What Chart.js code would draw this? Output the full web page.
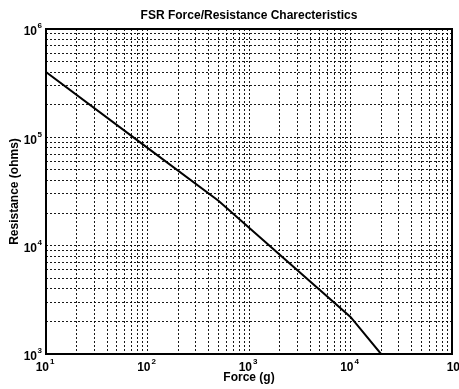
<!DOCTYPE html>
<html>
<head>
<meta charset="utf-8">
<script src="https://cdn.jsdelivr.net/npm/chart.js@4"></script>
<style>
  html, body { margin: 0; padding: 0; background: #fff; }
  canvas { display: block; }
</style>
</head>
<body>
<canvas id="fsr" width="459" height="389"></canvas>
<script>
// Force (g) and the matching sensor resistance (ohms)
const forceGrams = [10, 100, 500, 10000, 20000];
const resistanceOhms = [400000, 80000, 26000, 2200, 1000];

// Decade exponents labelled on each axis
const xTickExponents = [1, 2, 3, 4, 5];
const yTickExponents = [3, 4, 5, 6];

const titleText = 'FSR Force/Resistance Charecteristics';
const xAxisTitle = 'Force (g)';
const yAxisTitle = 'Resistance (ohms)';

const FONT = '"Liberation Sans", Arial, Helvetica, sans-serif';

// 1..9 x 10^k grid values across the decades of an axis
function decadeGrid(exps) {
  const vals = [];
  for (let e = exps[0]; e < exps[exps.length - 1]; e++) {
    for (let s = 1; s < 10; s++) vals.push(s * Math.pow(10, e));
  }
  vals.push(Math.pow(10, exps[exps.length - 1]));
  return vals.map(v => ({ value: v }));
}

// Frame, "10^n" tick labels and titles
const annotate = {
  id: 'annotate',
  afterDraw(chart) {
    const { ctx, chartArea: a, scales } = chart;
    ctx.save();
    ctx.strokeStyle = '#000';
    ctx.lineWidth = 2;
    ctx.strokeRect(a.left, a.top, a.right - a.left, a.bottom - a.top);

    ctx.fillStyle = '#000';
    const base = 'bold 12px ' + FONT;
    const sup = 'bold 8px ' + FONT;

    // x decade labels (the last one runs off the right edge)
    xTickExponents.forEach((e, i) => {
      const last = i === xTickExponents.length - 1;
      const px = scales.x.getPixelForValue(Math.pow(10, e)) + (last ? 6 : 1);
      ctx.font = base;
      ctx.textAlign = 'right';
      ctx.textBaseline = 'middle';
      ctx.fillText('10', px + 2, a.bottom + 14);
      ctx.font = sup;
      ctx.textAlign = 'left';
      ctx.fillText(String(e), px + 3, a.bottom + 8);
    });

    // y decade labels
    yTickExponents.forEach(e => {
      const py = scales.y.getPixelForValue(Math.pow(10, e));
      ctx.font = base;
      ctx.textAlign = 'right';
      ctx.textBaseline = 'middle';
      ctx.fillText('10', a.left - 9, py + 3);
      ctx.font = sup;
      ctx.textAlign = 'left';
      ctx.fillText(String(e), a.left - 8.5, py - 3);
    });

    const cx = (a.left + a.right) / 2;
    ctx.font = base;
    ctx.textAlign = 'center';
    ctx.textBaseline = 'middle';
    ctx.fillText(titleText, cx, 16);
    ctx.fillText(xAxisTitle, cx, 378);

    ctx.translate(15, (a.top + a.bottom) / 2);
    ctx.rotate(-Math.PI / 2);
    ctx.fillText(yAxisTitle, 0, 0);
    ctx.restore();
  }
};

const gridStyle = {
  grid: { color: 'rgba(0,0,0,0.9)', lineWidth: 1, drawTicks: false },
  border: { display: false, dash: [2, 2] },
  ticks: { display: false }
};

new Chart(document.getElementById('fsr'), {
  type: 'line',
  data: {
    datasets: [{
      data: forceGrams.map((f, i) => ({ x: f, y: resistanceOhms[i] })),
      borderColor: '#000',
      borderWidth: 2,
      pointRadius: 0,
      tension: 0,
      fill: false
    }]
  },
  options: {
    responsive: false,
    animation: false,
    layout: { padding: { left: 46, right: 7, top: 29, bottom: 35 } },
    plugins: { legend: { display: false }, tooltip: { enabled: false } },
    scales: {
      x: Object.assign({
        type: 'logarithmic',
        min: Math.pow(10, xTickExponents[0]),
        max: Math.pow(10, xTickExponents[xTickExponents.length - 1]),
        afterBuildTicks: s => { s.ticks = decadeGrid(xTickExponents); }
      }, gridStyle),
      y: Object.assign({
        type: 'logarithmic',
        min: Math.pow(10, yTickExponents[0]),
        max: Math.pow(10, yTickExponents[yTickExponents.length - 1]),
        afterBuildTicks: s => { s.ticks = decadeGrid(yTickExponents); }
      }, gridStyle)
    }
  },
  plugins: [annotate]
});
</script>
</body>
</html>
